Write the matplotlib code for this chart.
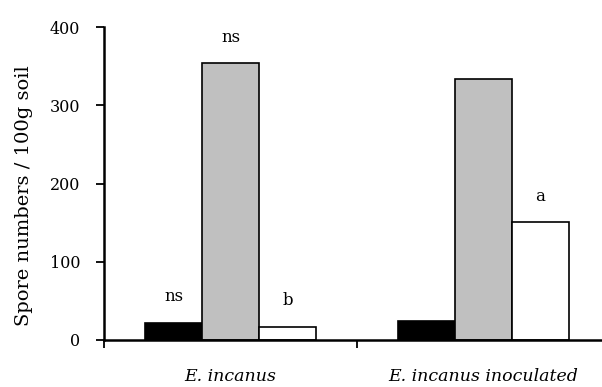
import numpy as np
import matplotlib.pyplot as plt

plt.rcParams['font.family'] = ['DejaVu Serif']

categories = ['E. incanus', 'E. incanus inoculated']
black_vals = [22, 24]
gray_vals = [354, 334]
white_vals = [17, 151]
black_notes = ['ns', '']
gray_notes = ['ns', '']
white_notes = ['b', 'a']

fig = plt.figure(figsize=(6.02, 3.87), dpi=100)
ax = fig.add_axes([104/602, 47/387, (610-104)/602, 313/387])

x = np.arange(len(categories)) + 0.5
w = 0.225
series = [(black_vals, 'black', black_notes, -w),
          (gray_vals, '#c0c0c0', gray_notes, 0),
          (white_vals, 'white', white_notes, w)]
for vals, col, notes, off in series:
    ax.bar(x + off, vals, width=w, color=col, edgecolor='black', linewidth=1.2, zorder=2)
    for xi, v, n in zip(x + off, vals, notes):
        if n:
            ax.text(xi, v + 33, n, ha='center', va='center', fontsize=12)

ax.set_xlim(0, 2)
ax.set_ylim(0, 400)
ax.set_yticks([0, 100, 200, 300, 400])
ax.set_xticks(x)
ax.set_xticklabels(categories, style='italic', fontsize=12.5)
ax.set_xticks([0, 1, 2], minor=True)
ax.tick_params(axis='x', which='major', length=0, pad=20)
ax.tick_params(axis='x', which='minor', length=6, width=1.3, direction='out')
ax.tick_params(axis='y', length=6, width=1.3, direction='out', labelsize=11.5, pad=11)
ax.set_ylabel('Spore numbers / 100g soil', fontsize=14)
ax.yaxis.set_label_coords(-0.14, 0.46)
for s in ['top', 'right']:
    ax.spines[s].set_visible(False)
for s in ['left', 'bottom']:
    ax.spines[s].set_linewidth(1.8)

fig.savefig('out.png', dpi=100)
